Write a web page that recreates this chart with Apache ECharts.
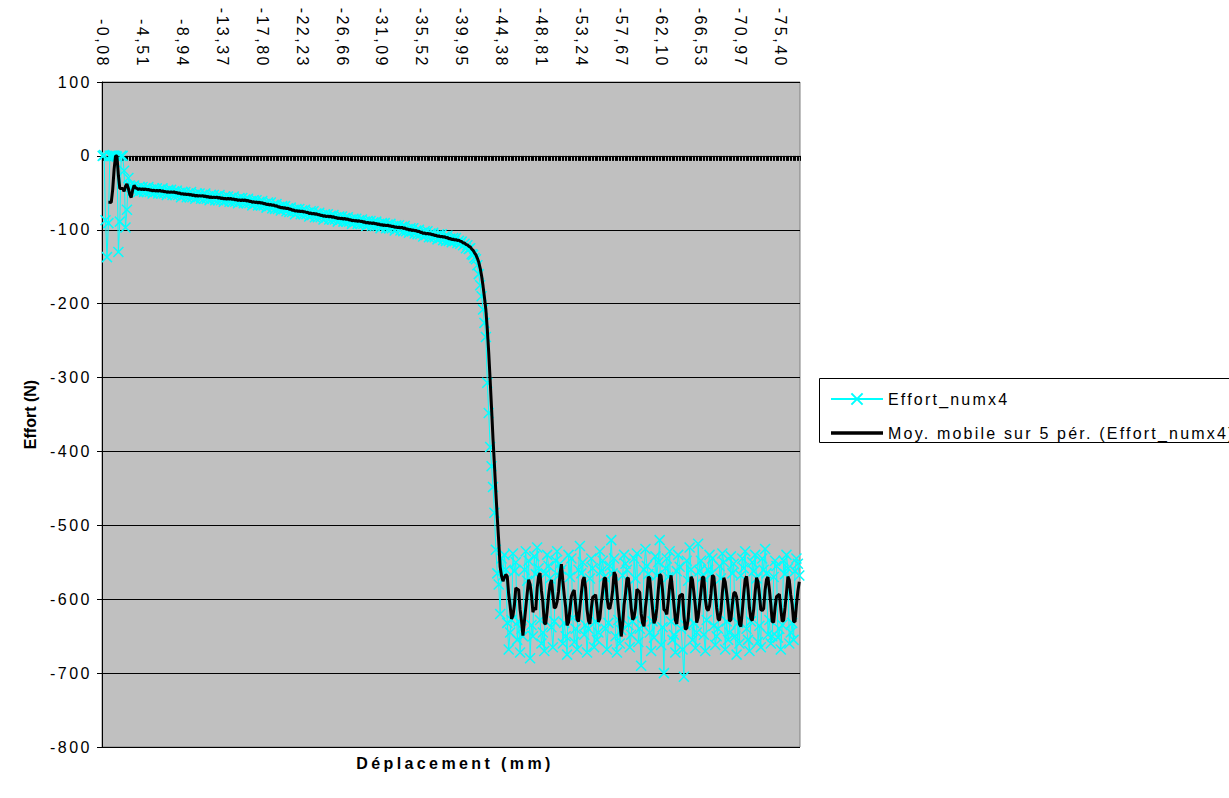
<!DOCTYPE html>
<html>
<head>
<meta charset="utf-8">
<script src="https://cdn.jsdelivr.net/npm/echarts@6/dist/echarts.min.js"></script>
<style>
html,body{margin:0;padding:0;background:#fff;}
#chart{width:1229px;height:798px;}
#chart svg text{letter-spacing:2.5px;}
#chart svg text[style*="bold"]{letter-spacing:3.4px;}
#chart svg text[style*="Helvetica"]{letter-spacing:2.2px;}
#chart svg text[style*="Arimo"]{letter-spacing:0;}
</style>
</head>
<body>
<div id="chart"></div>
<script>
// Tick labels of the displacement axis (mm), one every 28 samples
const TICK_LABELS = ['-0,08','-4,51','-8,94','-13,37','-17,80','-22,23','-26,66','-31,09','-35,52','-39,95','-44,38','-48,81','-53,24','-57,67','-62,10','-66,53','-70,97','-75,40'];
const SAMPLES_PER_TICK = 28;

// Effort_numx4 (N)
const effortStart = [0,1,-87,-137,-91,0,0,0,0,0,-1,-130,-89,0,0,-20,-97,-73,-30,-40];
const effortSlope = [
-42,-47,-40,-47,-44,-49,-42,-46,-42,-49,
-44,-49,-42,-49,-46,-51,-44,-48,-44,-51,
-46,-51,-44,-51,-48,-53,-46,-50,-46,-53,
-48,-53,-47,-53,-50,-56,-49,-53,-49,-56,
-51,-56,-49,-56,-53,-58,-51,-55,-51,-58,
-53,-58,-51,-58,-55,-60,-53,-57,-53,-60,
-55,-60,-53,-60,-57,-62,-55,-59,-55,-62,
-57,-62,-55,-62,-59,-64,-57,-61,-57,-64,
-59,-64,-58,-64,-61,-67,-60,-64,-60,-67,
-62,-67,-61,-67,-65,-70,-63,-68,-63,-71,
-66,-72,-65,-72,-69,-74,-68,-72,-68,-75,
-71,-76,-70,-76,-73,-79,-72,-76,-72,-79,
-74,-79,-73,-79,-77,-82,-75,-80,-75,-83,
-78,-83,-77,-83,-80,-86,-79,-83,-79,-86,
-81,-86,-80,-86,-83,-89,-82,-86,-82,-89,
-84,-89,-83,-89,-86,-92,-85,-89,-85,-92,
-87,-92,-86,-92,-89,-95,-88,-92,-88,-95,
-90,-95,-89,-95,-92,-98,-91,-95,-91,-98,
-93,-98,-92,-98,-95,-101,-94,-98,-94,-101,
-96,-102,-95,-102,-99,-104,-98,-102,-98,-105,
-101,-106,-100,-106,-104,-109,-102,-107,-102,-110,
-105,-110,-104,-110,-108,-113,-106,-111,-106,-114,
-109,-115,-108,-115,-112,-117,-111,-115,-111,-118,
-115,-119,-116,-121,-119,-125,-121,-126,-125,-133,
-134,-138];
const effortDrop = [-140,-148,-160,-175,-190,-208,-226,-245,-307,-348,-394,-420,-448,-483,-533,-565,-580,-620];
const effortPlateau = [
-545,-568,-540,-560, -632,-668,-645,-628,
-538,-562,-550, -655,-630,-672,-640,-650,
-560,-535,-575,-548, -680,-635,-650,
-542,-566,-530,-558, -628,-660,-645,-670,
-565,-540,-555,-572, -638,-665,-630,
-548,-535,-568,-552,-560, -660,-632,-650,-675,
-540,-570,-545, -625,-658,-640,-668,
-560,-528,-565,-550, -648,-635,-672,-640,
-572,-545,-558, -665,-630,-655,-645,
-535,-562,-548,-570, -640,-668,-632,
-555,-520,-565,-545, -650,-672,-628,-660,-642,
-568,-540,-552,-560, -635,-665,-648,-630,
-545,-572,-538, -658,-640,-690,-635,
-560,-532,-555,-566, -645,-670,-630,-652,
-542,-568,-550,-520, -662,-638,-700,
-558,-545,-570,-535, -630,-655,-648,-672,
-562,-540,-556, -640,-668,-705,-635,
-548,-575,-530,-560, -655,-632,-666,-645,
-525,-562,-548,-570, -648,-670,-628,
-560,-540,-566,-545, -636,-662,-650,-640,
-555,-572,-538,-550, -668,-630,-655,-645,
-542,-565,-552, -650,-675,-632,-660,
-568,-545,-558,-535, -640,-655,-670,-630,
-550,-562,-540,-572, -658,-636,-665,
-545,-560,-532,-565, -648,-628,-660,-650,
-570,-548,-555,
-652,-640,-668,-635, -548,-566,-540,-558,
-660,-645,-632,-655, -562,-545,-552,-568];

const SERIES_NAME = 'Effort_numx4';
const TREND_NAME = 'Moy. mobile sur 5 pér. (Effort_numx4)';
const MA_PERIOD = 5;

const effort = effortStart.concat(effortSlope, effortDrop, effortPlateau);

// category labels (displacement), built from the tick labels
const tickVals = TICK_LABELS.map(s => parseFloat(s.replace(',', '.')));
const categories = [];
for (let i = 0; i < effort.length; i++) {
  const k = Math.floor(i / SAMPLES_PER_TICK);
  let v;
  if (k < tickVals.length - 1) {
    const f = (i % SAMPLES_PER_TICK) / SAMPLES_PER_TICK;
    v = tickVals[k] + (tickVals[k + 1] - tickVals[k]) * f;
  } else {
    const last = tickVals.length - 1;
    v = tickVals[last] + (tickVals[last] - tickVals[last - 1]) * (i - last * SAMPLES_PER_TICK) / SAMPLES_PER_TICK;
  }
  categories.push(v.toFixed(2).replace('.', ','));
}

// moving average trendline (5 periods), as Excel draws it
const movingAvg = effort.map((v, i) => {
  if (i < MA_PERIOD - 1) return null;
  let s = 0;
  for (let j = i - MA_PERIOD + 1; j <= i; j++) s += effort[j];
  return +(s / MA_PERIOD).toFixed(2);
});

const FONT = '"Liberation Sans", Arial, sans-serif';
const FONT_LEGEND = '"Liberation Sans", Arial, Helvetica, sans-serif';
const FONT_YTITLE = '"Liberation Sans", Arimo, sans-serif';
const X_MARK = 'path://M0,0L10,10M10,0L0,10';

const chart = echarts.init(document.getElementById('chart'), null, {renderer: 'svg'});
chart.setOption({
  animation: false,
  backgroundColor: '#ffffff',
  textStyle: {fontFamily: FONT},
  grid: {left: 102, top: 82, width: 698, height: 665, show: true,
         backgroundColor: '#C0C0C0', borderColor: '#808080', borderWidth: 1},
  title: {text: 'Déplacement (mm)', left: 450, top: 750, textAlign: 'center',
          textStyle: {fontFamily: FONT, fontSize: 16, fontWeight: 'bold', color: '#000'}},
  legend: {
    orient: 'vertical', left: 825, top: 386, itemWidth: 52, itemHeight: 14, itemGap: 18,
    symbolKeepAspect: true,
    textStyle: {fontFamily: FONT_LEGEND, fontSize: 16, color: '#000'},
    data: [SERIES_NAME, {name: TREND_NAME, icon: 'path://M0,0h60v4h-60z'}]
  },
  graphic: [{type: 'rect', left: 819, top: 378, z: -1, silent: true,
             shape: {width: 430, height: 64}, style: {fill: '#fff', stroke: '#000', lineWidth: 1}}],
  xAxis: [
    {type: 'category', data: categories, position: 'top', boundaryGap: true,
     axisLine: {show: false, onZero: false}, axisTick: {show: false}, splitLine: {show: false},
     axisLabel: {interval: SAMPLES_PER_TICK - 1, rotate: 90, margin: 14, padding: [14, 0, 0, 0],
                 fontSize: 16, color: '#000', fontFamily: FONT}},
    {type: 'category', data: categories, position: 'bottom', boundaryGap: true,
     axisLine: {show: true, onZero: true, lineStyle: {color: '#000', width: 1}},
     axisTick: {show: true, interval: 0, length: 5, lineStyle: {color: '#000', width: 1}},
     axisLabel: {show: false}, splitLine: {show: false}}
  ],
  yAxis: {
    type: 'value', min: -800, max: 100, interval: 100,
    name: 'Effort (N)', nameLocation: 'middle', nameGap: 64,
    nameTextStyle: {fontFamily: FONT_YTITLE, fontSize: 16, fontWeight: 'bold', color: '#000'},
    axisLine: {show: true, lineStyle: {color: '#000', width: 1}},
    axisTick: {show: true, length: 5, lineStyle: {color: '#000'}},
    axisLabel: {fontSize: 16, color: '#000', margin: 10, fontFamily: FONT},
    splitLine: {show: true, lineStyle: {color: '#000', width: 1}}
  },
  series: [
    {name: SERIES_NAME, type: 'line', xAxisIndex: 0, z: 2, data: effort,
     symbol: X_MARK, symbolSize: 10, showSymbol: true, showAllSymbol: true,
     lineStyle: {color: '#00FFFF', width: 1},
     itemStyle: {color: '#00FFFF', borderColor: '#00FFFF', borderWidth: 1.5},
     emphasis: {disabled: true}},
    {name: TREND_NAME, type: 'line', xAxisIndex: 0, z: 5, data: movingAvg,
     symbol: 'none', showSymbol: false, connectNulls: false,
     lineStyle: {color: '#000', width: 3}, itemStyle: {color: '#000'},
     emphasis: {disabled: true}}
  ]
});
</script>
</body>
</html>
